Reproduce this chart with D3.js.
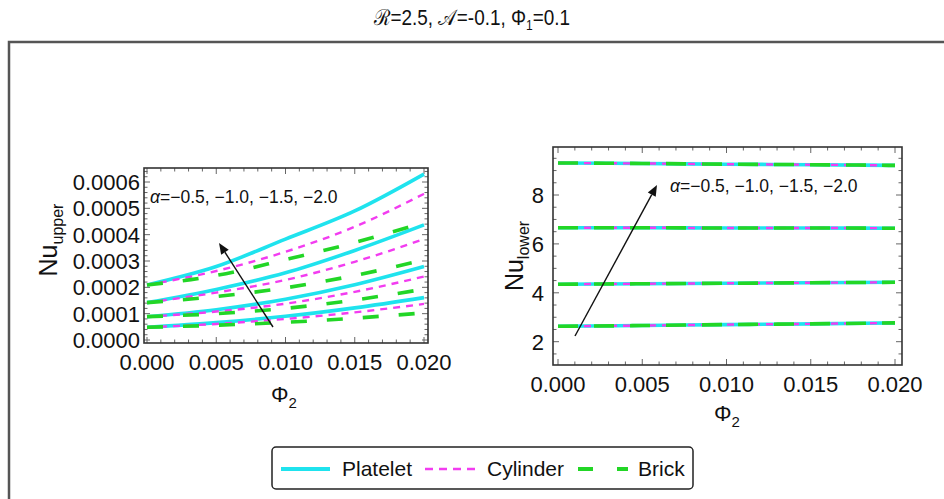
<!DOCTYPE html>
<html>
<head>
<meta charset="utf-8">
<script src="https://cdn.jsdelivr.net/npm/d3@7"></script>
<style>
  html, body { margin: 0; padding: 0; background: #fff; }
  svg { display: block; font-family: "Liberation Sans", Arial, sans-serif; }
</style>
</head>
<body>
<svg id="chart" width="944" height="499"></svg>
<script>
// Nusselt numbers against nanoparticle fraction Φ2, for four α values and three particle shapes
const phi2 = [0, 0.005, 0.01, 0.015, 0.02];
const alphaValues = ["−0.5", "−1.0", "−1.5", "−2.0"];
const shapes = ["Platelet", "Cylinder", "Brick"];

// Upper wall, one row per α (−0.5 … −2.0)
const nuUpperPlatelet = [
  [0.0000483, 0.000066, 0.000090, 0.000122, 0.000161],
  [0.0000886, 0.000115, 0.000155, 0.000210, 0.000279],
  [0.000142, 0.000192, 0.000255, 0.000340, 0.000437],
  [0.000209, 0.000279, 0.000383, 0.000490, 0.000630]
];
const nuUpperCylinder = [
  [0.0000483, 0.000061, 0.000080, 0.000105, 0.000137],
  [0.0000886, 0.000108, 0.000138, 0.000183, 0.000241],
  [0.000142, 0.000180, 0.000228, 0.000297, 0.000383],
  [0.000209, 0.000262, 0.000335, 0.000430, 0.000555]
];
const nuUpperBrick = [
  [0.0000483, 0.000056, 0.000067, 0.000083, 0.000103],
  [0.0000886, 0.000100, 0.000120, 0.000152, 0.000193],
  [0.000142, 0.000165, 0.000198, 0.000245, 0.000304],
  [0.000209, 0.000245, 0.000305, 0.000370, 0.000446]
];

// Lower wall, one row per α (−0.5 … −2.0)
const nuLowerPlatelet = [
  [2.63, 2.66, 2.70, 2.73, 2.77],
  [4.35, 4.37, 4.39, 4.41, 4.43],
  [6.66, 6.66, 6.65, 6.65, 6.64],
  [9.31, 9.29, 9.26, 9.24, 9.21]
];
const nuLowerCylinder = [
  [2.63, 2.66, 2.70, 2.73, 2.77],
  [4.35, 4.37, 4.39, 4.41, 4.43],
  [6.66, 6.66, 6.65, 6.65, 6.64],
  [9.31, 9.29, 9.26, 9.24, 9.21]
];
const nuLowerBrick = [
  [2.63, 2.66, 2.70, 2.73, 2.77],
  [4.35, 4.37, 4.39, 4.41, 4.43],
  [6.66, 6.66, 6.65, 6.65, 6.64],
  [9.31, 9.29, 9.26, 9.24, 9.21]
];

const xTicks = [0, 0.005, 0.01, 0.015, 0.02];
const upperTicks = [0, 0.0001, 0.0002, 0.0003, 0.0004, 0.0005, 0.0006];
const lowerTicks = [2, 4, 6, 8];

const colors = { Platelet: "#1fe3ee", Cylinder: "#f23cf0", Brick: "#22d626" };

const svg = d3.select("#chart");

// Outer frame around the figure
svg.append("rect")
  .attr("x", 9).attr("y", 42).attr("width", 960).attr("height", 480)
  .attr("fill", "none").attr("stroke", "#555").attr("stroke-width", 2.5);

// Title (horizontally condensed)
const title = svg.append("text")
  .attr("transform", "translate(472,25) scale(0.86,1)")
  .attr("text-anchor", "middle")
  .attr("font-size", 22).attr("fill", "#111");
title.append("tspan").text("ℛ=2.5, 𝒜=-0.1, Φ");
title.append("tspan").attr("font-size", 14).attr("dy", 5).text("1");
title.append("tspan").attr("dy", -5).text("=0.1");

function panel(cfg) {
  const g = svg.append("g");
  const x = d3.scaleLinear().domain([0, 0.02]).range(cfg.xRange);
  const y = d3.scaleLinear().domain(cfg.yDomain).range(cfg.yRange);
  const [fx0, fy0, fx1, fy1] = cfg.frame;

  // minor + major ticks on all four sides, pointing inward
  const tick = (x1, y1, x2, y2) => g.append("line")
    .attr("x1", x1).attr("y1", y1).attr("x2", x2).attr("y2", y2)
    .attr("stroke", "#666").attr("stroke-width", 1);

  const xMinor = d3.range(0, 0.02 + 1e-9, 0.001);
  xMinor.forEach(v => {
    const major = xTicks.some(t => Math.abs(t - v) < 1e-9);
    const len = major ? 6 : 3.5;
    tick(x(v), fy1, x(v), fy1 - len);
    tick(x(v), fy0, x(v), fy0 + len);
  });
  cfg.yMinor.forEach(v => {
    const major = cfg.yTicks.some(t => Math.abs(t - v) < 1e-12);
    const len = major ? 6 : 3.5;
    const py = y(v);
    if (py < fy0 || py > fy1) return;
    tick(fx0, py, fx0 + len, py);
    tick(fx1, py, fx1 - len, py);
  });

  // curves: platelet solid, cylinder short dash, brick long dash
  const line = d3.line().x((d, i) => x(phi2[i])).y(d => y(d)).curve(d3.curveMonotoneX);
  const clipId = cfg.id + "-clip";
  svg.append("clipPath").attr("id", clipId).append("rect")
    .attr("x", fx0).attr("y", fy0).attr("width", fx1 - fx0).attr("height", fy1 - fy0);
  const curves = g.append("g").attr("clip-path", `url(#${clipId})`);
  const styles = [
    { name: "Platelet", data: cfg.platelet, width: 3.6, dash: null },
    { name: "Cylinder", data: cfg.cylinder, width: 2.4, dash: "7,6" },
    { name: "Brick", data: cfg.brick, width: 3.6, dash: cfg.brickDash }
  ];
  styles.forEach(s => {
    s.data.forEach(row => {
      curves.append("path").attr("d", line(row))
        .attr("fill", "none").attr("stroke", colors[s.name])
        .attr("stroke-width", s.width)
        .attr("stroke-dasharray", s.dash);
    });
  });

  // frame
  g.append("rect").attr("x", fx0).attr("y", fy0)
    .attr("width", fx1 - fx0).attr("height", fy1 - fy0)
    .attr("fill", "none").attr("stroke", "#333").attr("stroke-width", 1.6);

  // tick labels
  xTicks.forEach(v => {
    g.append("text").attr("x", x(v)).attr("y", fy1 + 27)
      .attr("text-anchor", "middle").attr("font-size", 22).attr("fill", "#111")
      .text(d3.format(".3f")(v));
  });
  cfg.yTicks.forEach(v => {
    g.append("text").attr("x", fx0 - cfg.yLabelGap).attr("y", y(v) + 8)
      .attr("text-anchor", "end").attr("font-size", 22).attr("fill", "#111")
      .text(cfg.yFormat(v));
  });

  // axis titles
  const xt = g.append("text").attr("x", cfg.xTitle[0]).attr("y", cfg.xTitle[1])
    .attr("text-anchor", "middle").attr("font-size", 22).attr("fill", "#111");
  xt.append("tspan").text("Φ");
  xt.append("tspan").attr("font-size", 15).attr("dy", 6).text("2");

  const yt = g.append("text")
    .attr("transform", `translate(${cfg.yTitle[0]},${cfg.yTitle[1]}) rotate(-90)`)
    .attr("text-anchor", "middle").attr("font-size", 25).attr("fill", "#111");
  yt.append("tspan").text("Nu");
  yt.append("tspan").attr("font-size", 16).attr("dy", 6).text(cfg.sub);

  // α annotation and arrow
  const at = g.append("text").attr("x", cfg.note[0]).attr("y", cfg.note[1])
    .attr("font-size", 17.5).attr("fill", "#111");
  at.append("tspan").attr("font-style", "italic").text("α");
  at.append("tspan").text("=" + alphaValues.join(", "));

  const [ax0, ay0, ax1, ay1] = cfg.arrow;
  const ang = Math.atan2(ay1 - ay0, ax1 - ax0);
  const hl = 11, hw = 4.5;
  const bx = ax1 - hl * Math.cos(ang), by = ay1 - hl * Math.sin(ang);
  g.append("line").attr("x1", ax0).attr("y1", ay0).attr("x2", bx).attr("y2", by)
    .attr("stroke", "#111").attr("stroke-width", 1.4);
  g.append("path")
    .attr("d", `M${ax1},${ay1} L${bx + hw * Math.sin(ang)},${by - hw * Math.cos(ang)} L${bx - hw * Math.sin(ang)},${by + hw * Math.cos(ang)} Z`)
    .attr("fill", "#111");
}

panel({
  id: "upper",
  frame: [144, 168, 428, 343],
  xRange: [147, 424],
  yDomain: [0, 0.0006], yRange: [340, 182],
  yTicks: upperTicks,
  yMinor: d3.range(0, 0.00066, 0.00002),
  yFormat: d3.format(".4f"),
  yLabelGap: 4,
  platelet: nuUpperPlatelet, cylinder: nuUpperCylinder, brick: nuUpperBrick,
  brickDash: "16,20",
  xTitle: [284, 402],
  yTitle: [57, 240],
  sub: "upper",
  note: [150, 203],
  arrow: [273, 327, 219, 243]
});

panel({
  id: "lower",
  frame: [553, 147, 902, 365],
  xRange: [558, 895],
  yDomain: [2, 8], yRange: [341.7, 195],
  yTicks: lowerTicks,
  yMinor: d3.range(1, 10.01, 0.5),
  yFormat: d3.format("d"),
  yLabelGap: 9,
  platelet: nuLowerPlatelet, cylinder: nuLowerCylinder, brick: nuLowerBrick,
  brickDash: "20,16",
  xTitle: [727, 421],
  yTitle: [523, 256],
  sub: "lower",
  note: [670, 192],
  arrow: [575, 336, 657, 185]
});

// Legend
const lg = svg.append("g");
lg.append("rect").attr("x", 272).attr("y", 447).attr("width", 421).attr("height", 42)
  .attr("rx", 4).attr("fill", "#fff").attr("stroke", "#222").attr("stroke-width", 1.5);
const legendItems = [
  { name: shapes[0], x0: 281, x1: 330, tx: 342, w: 4, dash: null },
  { name: shapes[1], x0: 425, x1: 477, tx: 487, w: 2.5, dash: "8,6" },
  { name: shapes[2], x0: 578, x1: 628, tx: 638, w: 4, dash: "15,24" }
];
legendItems.forEach(it => {
  lg.append("line").attr("x1", it.x0).attr("x2", it.x1).attr("y1", 469).attr("y2", 469)
    .attr("stroke", colors[it.name]).attr("stroke-width", it.w)
    .attr("stroke-dasharray", it.dash);
  lg.append("text").attr("x", it.tx).attr("y", 476).attr("font-size", 21)
    .attr("fill", "#111").text(it.name);
});
</script>
</body>
</html>
